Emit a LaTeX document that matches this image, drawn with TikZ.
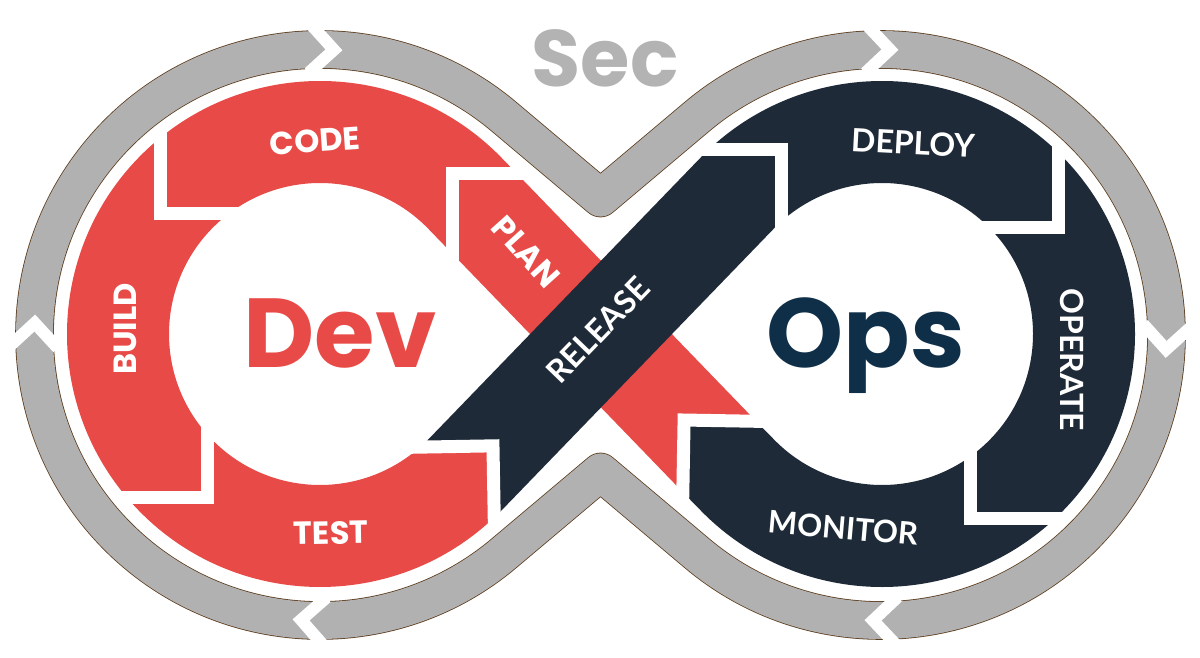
\documentclass[tikz,border=0pt]{standalone}
\usepackage{fontspec}
\newfontfamily\pop{Poppins}
\newfontfamily\lato{Lato}
\usetikzlibrary{calc}
\definecolor{devred}{HTML}{E84A47}
\definecolor{opsnavy}{HTML}{1E2A37}
\definecolor{opstext}{HTML}{0F2E48}
\definecolor{secgray}{HTML}{B3B3B3}
\definecolor{bandgray}{HTML}{B1B1B1}
\definecolor{bandedge}{HTML}{5C3D1E}
\begin{document}
\begin{tikzpicture}[x=1pt,y=1pt,
  gapline/.style={white, line width=13pt, line join=miter, line cap=butt},
  graygap/.style={white, line width=12pt, line join=miter, line cap=butt},
  lbl/.style={text=white, inner sep=0pt},
  devlbl/.style={lbl, font=\pop\bfseries\fontsize{32}{32}\selectfont},
  opslbl/.style={lbl, font=\lato\bfseries\fontsize{32}{32}\selectfont},
  bigword/.style={inner sep=0pt, anchor=base, font=\pop\bfseries\fontsize{98}{98}\selectfont}]
\useasboundingbox (0,0) rectangle (1200,657);
\coordinate (L) at (320,323);
\coordinate (R) at (882,323);
\coordinate (C) at (601,323);
\coordinate (GL) at (320,322);
\coordinate (GR) at (881,322);
% Dev loop (red)
\fill[devred] ($(L)+(44:253)$) arc[start angle=44, end angle=313.44, radius=253]
  -- ($(C)+(46:-155.5)$)
  -- ($(L)+(311.73:151)$) arc[start angle=311.73, end angle=44, radius=151]
  -- ($(C)+(-46:170.6)+(44:-51)$)
  -- ($(C)+(-46:119.6)$)
  -- ($(C)+(-46:170.6)+(44:51)$)
  -- cycle;
% Ops loop (navy)
\fill[opsnavy] ($(C)+(46:-206.5)+(-44:51)$)
  -- ($(C)+(46:-155.5)$)
  -- ($(C)+(46:-206.5)+(-44:-51)$)
  -- ($(R)+(136:253)$) arc[start angle=136, end angle=-136, radius=253]
  -- ($(C)+(-46:170.6)+(44:-51)$)
  -- ($(C)+(-46:119.6)$)
  -- ($(C)+(-46:170.6)+(44:51)$)
  -- ($(R)+(-136:151)$) arc[start angle=-136, end angle=136, radius=151]
  -- cycle;
% arrow gaps in the rings
\foreach \px/\py/\ph in {452/483/135, 160/443/225, 207/160/315, 492.97/211.15/46,
                         684.09/236.97/134, 1058/429/315, 970/139/225, 781/507/45}{
  \draw[gapline] ($(\px,\py)+(\ph+135:100)$) -- (\px,\py) -- ($(\px,\py)+(\ph+225:100)$);
}
% Sec band
\draw[bandgray, line width=37pt, line join=round,
      preaction={draw=bandedge, line width=38.6pt, line join=round}]
  (600.5,459) -- ($(GL)+(49.9:285.5)$) arc[start angle=49.9, end angle=310.1, radius=285.5]
  -- (600.5,185) -- ($(GR)+(229.9:285.5)$) arc[start angle=229.9, end angle=490.1, radius=285.5]
  -- cycle;
\foreach \c/\a in {GL/87.2, GL/177.6, GL/266.2, GR/88.2, GR/-2.9, GR/268.4}{
  \coordinate (bv) at ($(\c)+(\a:285.5)$);
  \draw[graygap] ($(bv)+(\a+45:34)$) -- (bv) -- ($(bv)+(\a+135:34)$);
}
% labels
\node[devlbl, rotate=4] (code) at (315,516) {CODE};
\node[devlbl, rotate=90] (build) at (125,328) {BUILD};
\node[devlbl, rotate=1] (test) at (331,124) {TEST};
\node[devlbl, rotate=-48] (plan) at (526,405) {PLAN};
\node[opslbl, rotate=46] (release) at (598,327) {RELEASE};
\node[opslbl, rotate=-3] (deploy) at (913,514) {DEPLOY};
\node[opslbl, rotate=-90] (operate) at (1072,297) {OPERATE};
\node[opslbl, rotate=-5, font=\lato\bfseries\fontsize{31}{31}\selectfont] (monitor) at (843,129) {MONITOR};
\node[bigword, text=devred] (dev) at (340,290) {Dev};
\node[bigword, text=opstext] (ops) at (866,290) {Ops};
\node[bigword, text=secgray, font=\pop\bfseries\fontsize{80}{80}\selectfont] (sec) at (605,570) {Sec};
\end{tikzpicture}
\end{document}
